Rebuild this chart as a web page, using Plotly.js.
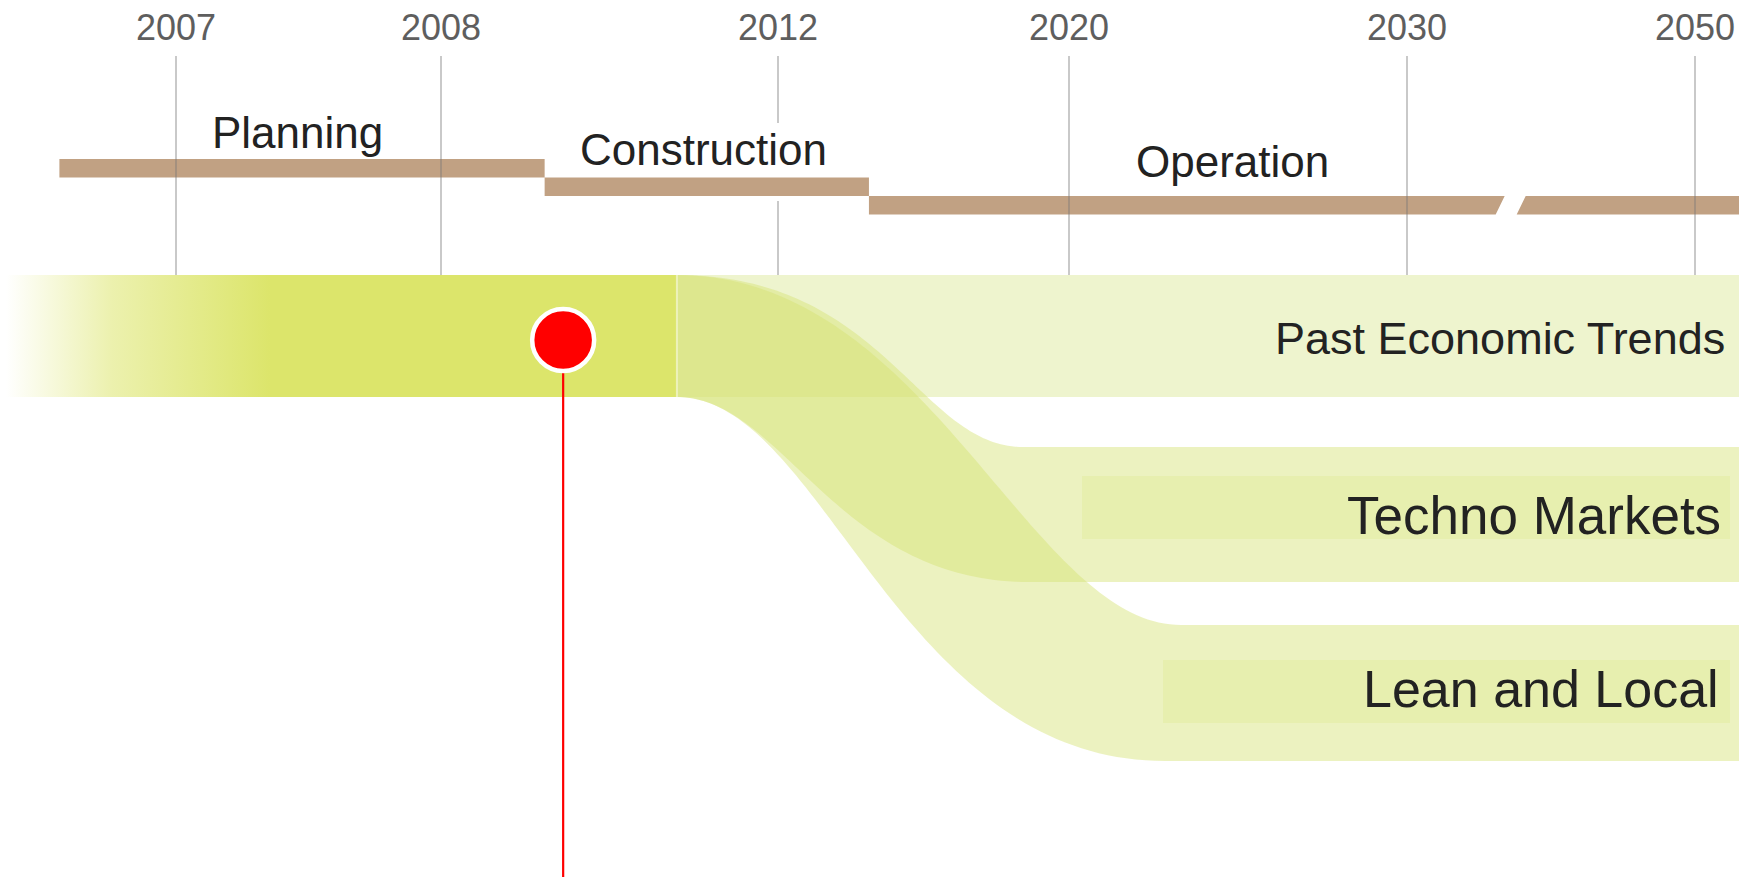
<!DOCTYPE html>
<html>
<head>
<meta charset="utf-8">
<script src="https://cdn.plot.ly/plotly-3.0.1.min.js"></script>
<style>
html, body { margin: 0; padding: 0; background: #ffffff; }
#chart { width: 1739px; height: 877px; }
</style>
</head>
<body>
<div id="chart"></div>
<script>
// ---------------- data ----------------
const tickYears  = [2007, 2008, 2012, 2020, 2030, 2050];
const tickLabels = ['2007', '2008', '2012', '2020', '2030', '2050'];
const phases     = ['Planning', 'Construction', 'Operation'];
const phaseStart = [2006.56, 2009.23, 2014.5];
const phaseEnd   = [2009.23, 2014.5, 2056];
const scenarios  = ['Past Economic Trends', 'Techno Markets', 'Lean and Local'];
const todayYear  = 2009.45;
const forkYear   = 2010.8;
const breakYear  = 2037.2;

// ---------------- layout constants ----------------
const W = 1739, H = 877, TOP = 56;
const TICK_POS = [176, 441, 778, 1069, 1407, 1695];   // axis position of each tick year
const TICK_GAP = { 2012: [123, 201] };                 // tick line hidden behind label
const ROW_TOP = [275, 447, 625];
const ROW_BOT = [397, 582, 761];
const RIBBON_SHAPE = [
  null,
  { top: [1023, 0.6, 0.3], bot: [1029, 0.3, 0.55] },
  { top: [1181, 0.5, 0.3], bot: [1165, 0.3, 0.55] }
];
const LABEL_BOX = [null, [1082, 1730, 476, 539], [1163, 1730, 660, 723]];
const PHASE_Y0 = 159, PHASE_H = 18.5;
const PHASE_LABEL_X = [297, 703, 1232];
const PHASE_LABEL_Y = [132, 149.5, 161];
const SCEN_LABEL_X = [1727, 1723, 1721];
const SCEN_LABEL_Y = [338, 515, 689];
const SCEN_FONT = [45, 53, 52];
const FADE = [6, 270];
const DOT_Y = 340;

const C_MAIN = 'rgb(220,229,107)';
const C_PAST = '#EEF4CE';
const C_RIBBON = 'rgba(213,226,115,0.45)';
const C_BOX = 'rgba(213,226,115,0.22)';
const C_PHASE = '#C1A183';
const C_TICK = 'rgba(120,120,120,0.40)';
const FONT = 'Liberation Sans, Arial, sans-serif';

// ---------------- helpers ----------------
function toX(year) {
  const n = tickYears.length;
  let i = 0;
  if (year >= tickYears[n - 1]) i = n - 2;
  else if (year > tickYears[0]) { while (year > tickYears[i + 1]) i++; }
  const y0 = tickYears[i], y1 = tickYears[i + 1];
  return TICK_POS[i] + (year - y0) / (y1 - y0) * (TICK_POS[i + 1] - TICK_POS[i]);
}
function edge(x0, y0, x1, y1, a, b, n) {
  n = n || 80;
  const dx = x1 - x0;
  const px = [x0, x0 + a * dx, x1 - b * dx, x1], py = [y0, y0, y1, y1];
  const xs = [], ys = [];
  for (let k = 0; k <= n; k++) {
    const t = k / n, u = 1 - t;
    xs.push(u*u*u*px[0] + 3*u*u*t*px[1] + 3*u*t*t*px[2] + t*t*t*px[3]);
    ys.push(u*u*u*py[0] + 3*u*u*t*py[1] + 3*u*t*t*py[2] + t*t*t*py[3]);
  }
  return { xs, ys };
}
const base = { type: 'scatter', hoverinfo: 'skip', showlegend: false };
const forkX = toX(forkYear);
const traces = [];

// main band with fade-in
traces.push(Object.assign({}, base, {
  x: [0, forkX, forkX, 0, 0], y: [ROW_TOP[0], ROW_TOP[0], ROW_BOT[0], ROW_BOT[0], ROW_TOP[0]],
  mode: 'none', fill: 'toself', fillcolor: C_MAIN,
  fillgradient: { type: 'horizontal', start: FADE[0], stop: FADE[1],
    colorscale: [[0, 'rgba(220,229,107,0)'], [0.4, 'rgba(220,229,107,0.55)'], [1, 'rgba(220,229,107,1)']] }
}));
// past economic trends band
traces.push(Object.assign({}, base, {
  x: [forkX, W + 10, W + 10, forkX, forkX], y: [ROW_TOP[0], ROW_TOP[0], ROW_BOT[0], ROW_BOT[0], ROW_TOP[0]],
  mode: 'none', fill: 'toself', fillcolor: C_PAST
}));
// scenario ribbons
for (let i = 1; i < scenarios.length; i++) {
  const s = RIBBON_SHAPE[i];
  const t = edge(forkX, ROW_TOP[0], s.top[0], ROW_TOP[i], s.top[1], s.top[2]);
  const b = edge(forkX, ROW_BOT[0], s.bot[0], ROW_BOT[i], s.bot[1], s.bot[2]);
  const xs = t.xs.concat([W + 10, W + 10], b.xs.slice().reverse());
  const ys = t.ys.concat([ROW_TOP[i], ROW_BOT[i]], b.ys.slice().reverse());
  traces.push(Object.assign({}, base, { x: xs, y: ys, mode: 'none', fill: 'toself', fillcolor: C_RIBBON, name: scenarios[i] }));
}
// label boxes
for (let i = 1; i < scenarios.length; i++) {
  const bx = LABEL_BOX[i];
  traces.push(Object.assign({}, base, {
    x: [bx[0], bx[1], bx[1], bx[0], bx[0]], y: [bx[2], bx[2], bx[3], bx[3], bx[2]],
    mode: 'none', fill: 'toself', fillcolor: C_BOX
  }));
}
// thin light seam at fork
traces.push(Object.assign({}, base, {
  x: [forkX, forkX], y: [ROW_TOP[0], ROW_BOT[0]], mode: 'lines',
  line: { color: 'rgba(255,255,255,0.45)', width: 2 }
}));
// phase bars
{
  const xs = [], ys = [];
  const bx = toX(breakYear), gap = 10.5, sl = 4.5;
  phases.forEach((p, i) => {
    const y0 = PHASE_Y0 + i * PHASE_H, y1 = y0 + PHASE_H;
    const x0 = toX(phaseStart[i]), x1 = toX(phaseEnd[i]);
    if (breakYear > phaseStart[i] && breakYear < phaseEnd[i]) {
      xs.push(x0, bx - gap + sl, bx - gap - sl, x0, x0, null);
      ys.push(y0, y0, y1, y1, y0, null);
      xs.push(bx + gap + sl, x1, x1, bx + gap - sl, bx + gap + sl, null);
      ys.push(y0, y0, y1, y1, y0, null);
    } else {
      xs.push(x0, x1, x1, x0, x0, null);
      ys.push(y0, y0, y1, y1, y0, null);
    }
  });
  traces.push(Object.assign({}, base, { x: xs, y: ys, mode: 'none', fill: 'toself', fillcolor: C_PHASE }));
}
// tick lines
{
  const xs = [], ys = [];
  tickYears.forEach(yr => {
    const x = toX(yr);
    const g = TICK_GAP[yr];
    if (g) { xs.push(x, x, null, x, x, null); ys.push(TOP, g[0], null, g[1], ROW_TOP[0], null); }
    else { xs.push(x, x, null); ys.push(TOP, ROW_TOP[0], null); }
  });
  traces.push(Object.assign({}, base, { x: xs, y: ys, mode: 'lines', line: { color: C_TICK, width: 2 } }));
}
// today marker
const todayX = toX(todayYear);
traces.push(Object.assign({}, base, {
  x: [todayX, todayX], y: [DOT_Y, H + 5], mode: 'lines', line: { color: '#ff0000', width: 2.2 }
}));
traces.push(Object.assign({}, base, {
  x: [todayX], y: [DOT_Y], mode: 'markers',
  marker: { size: 62, color: '#ff0000', line: { color: '#ffffff', width: 4.5 } }
}));

// annotations
const annotations = [];
phases.forEach((p, i) => annotations.push({
  x: PHASE_LABEL_X[i], y: PHASE_LABEL_Y[i], xref: 'x', yref: 'y', text: p, showarrow: false,
  xanchor: 'center', yanchor: 'middle', font: { family: FONT, size: 44, color: '#222222' }
}));
scenarios.forEach((s, i) => annotations.push({
  x: SCEN_LABEL_X[i], y: SCEN_LABEL_Y[i], xref: 'x', yref: 'y', text: s, showarrow: false,
  xanchor: 'right', yanchor: 'middle', font: { family: FONT, size: SCEN_FONT[i], color: '#222222' }
}));

const layout = {
  width: W, height: H,
  margin: { l: 0, r: 0, t: TOP, b: 0, pad: 0 },
  paper_bgcolor: '#ffffff', plot_bgcolor: '#ffffff',
  showlegend: false,
  xaxis: {
    range: [0, W], side: 'top', showgrid: false, zeroline: false, showline: false,
    tickmode: 'array', tickvals: tickYears.map(toX), ticktext: tickLabels,
    ticks: '', ticklabelstandoff: 8,
    tickfont: { family: FONT, size: 36, color: '#5e5e5e' }, fixedrange: true
  },
  yaxis: { range: [H, TOP], visible: false, fixedrange: true },
  annotations: annotations
};
Plotly.newPlot('chart', traces, layout, { displayModeBar: false, staticPlot: true });
</script>
</body>
</html>
